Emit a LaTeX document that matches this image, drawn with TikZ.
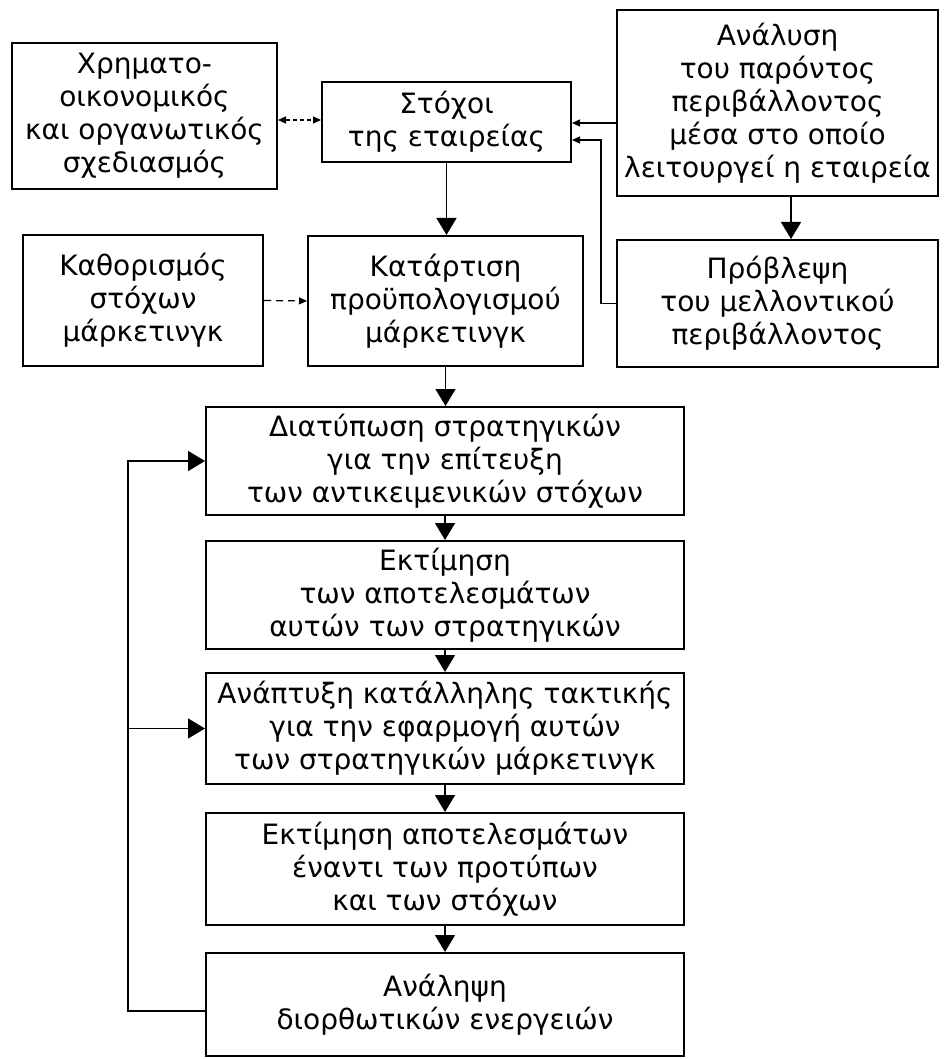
\documentclass[tikz,border=0pt]{standalone}
\usepackage{fontspec}
\setmainfont{DejaVu Sans}
\usetikzlibrary{arrows.meta}

\begin{document}
\begin{tikzpicture}[x=1pt, y=-1pt,
		box/.style={draw, line width=2pt, align=center, inner sep=0pt, font=\fontsize{28}{33}\selectfont},
		con/.style={line width=1.4pt, -{Triangle[length=17pt,width=20pt]}},
		sm/.style={line width=1.2pt, -{Triangle[length=8pt,width=7pt]}}]
	\useasboundingbox (0,0) rectangle (943,1059);
	\node[box, minimum width=265pt, minimum height=146pt] (fin) at (144.5,116) {Χρηματο-\\οικονομικός\\και οργανωτικός\\σχεδιασμός};
	\node[box, minimum width=249pt, minimum height=80pt] (goal) at (446.5,122) {Στόχοι\\της εταιρείας};
	\node[box, minimum width=321pt, minimum height=186pt] (env) at (777.5,103) {Ανάλυση\\του παρόντος\\περιβάλλοντος\\μέσα στο οποίο\\λειτουργεί η εταιρεία};
	\node[box, minimum width=321pt, minimum height=127pt] (fcst) at (777.5,303.5) {Πρόβλεψη\\του μελλοντικού\\περιβάλλοντος};
	\node[box, minimum width=240pt, minimum height=131pt] (mkt) at (143,300.5) {Καθορισμός\\στόχων\\μάρκετινγκ};
	\node[box, minimum width=275pt, minimum height=130pt] (bud) at (445.5,301) {Κατάρτιση\\προϋπολογισμού\\μάρκετινγκ};
	\node[box, minimum width=478pt, minimum height=108pt] (strat) at (445,461) {Διατύπωση στρατηγικών\\για την επίτευξη\\των αντικειμενικών στόχων};
	\node[box, minimum width=478pt, minimum height=108pt] (est) at (445,595) {Εκτίμηση\\των αποτελεσμάτων\\αυτών των στρατηγικών};
	\node[box, minimum width=478pt, minimum height=111pt] (tact) at (445,728.5) {Ανάπτυξη κατάλληλης τακτικής\\για την εφαρμογή αυτών\\των στρατηγικών μάρκετινγκ};
	\node[box, minimum width=478pt, minimum height=112pt] (eval) at (445,869) {Εκτίμηση αποτελεσμάτων\\έναντι των προτύπων\\και των στόχων};
	\node[box, minimum width=478pt, minimum height=103pt] (act) at (445,1004.5) {Ανάληψη\\διορθωτικών ενεργειών};

	\draw[sm, {Triangle[length=8pt,width=7pt]}-{Triangle[length=8pt,width=7pt]}, dash pattern=on 4pt off 3pt] (fin.east |- 0,120) -- (goal.west |- 0,120);
	\draw[sm] (env.west |- 0,123) -- (goal.east |- 0,123);
	\draw[sm] (fcst.west) -- ++(-15,0) |- (goal.east |- 0,140);
	\draw[con] (env.south -| 791,0) -- (fcst.north -| 791,0);
	\draw[sm, dash pattern=on 7pt off 5pt] (mkt.east) -- (bud.west);
	\draw[con] (goal.south) -- (goal.south |- bud.north);
	\draw[con] (bud.south) -- (bud.south |- strat.north);
	\foreach \a/\b in {strat/est, est/tact, tact/eval, eval/act}
		\draw[con] (\a) -- (\b);
	\draw[con] (act.west |- 0,1011) -| (strat.west -| 128,0) -- (strat.west);
	\draw[con] (tact.west -| 128,0) -- (tact.west);
\end{tikzpicture}
\end{document}
